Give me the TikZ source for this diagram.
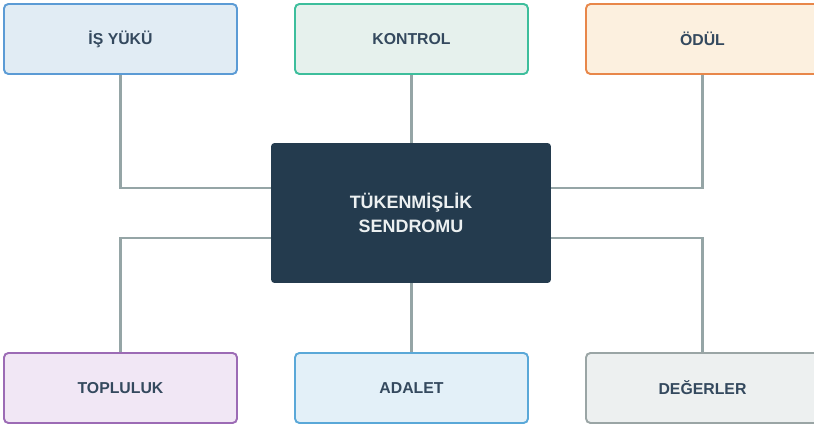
\documentclass[tikz,border=0pt]{standalone}
\usepackage{fontspec}
\setmainfont{Liberation Sans}
\usepackage{tikz}
\usetikzlibrary{backgrounds}

\definecolor{linegray}{HTML}{95A5A6}
\definecolor{textdark}{HTML}{34495E}
\definecolor{corefill}{HTML}{243B4E}
\definecolor{coretext}{HTML}{ECF0F1}
\definecolor{isline}{HTML}{5B9BD5}
\definecolor{isfill}{HTML}{E1ECF4}
\definecolor{konline}{HTML}{3DBE9C}
\definecolor{konfill}{HTML}{E6F1ED}
\definecolor{odline}{HTML}{E8874A}
\definecolor{odfill}{HTML}{FCF0DF}
\definecolor{topline}{HTML}{9C6BB5}
\definecolor{topfill}{HTML}{F1E7F5}
\definecolor{adline}{HTML}{5AA8D8}
\definecolor{adfill}{HTML}{E3F0F8}
\definecolor{degline}{HTML}{9AA5A5}
\definecolor{degfill}{HTML}{EDF0F0}

\begin{document}
\begin{tikzpicture}[x=0.02cm, y=-0.02cm,
    factor/.style={draw, line width=1.1pt, rounded corners=2.5pt,
        minimum width=4.66cm, minimum height=1.4cm,
        text=textdark, font=\fontsize{9}{11}\selectfont\bfseries},
    core/.style={fill=corefill, rounded corners=2pt,
        minimum width=5.6cm, minimum height=2.8cm,
        text=coretext, align=center,
        font=\fontsize{10.2}{13.8}\selectfont\bfseries},
    link/.style={draw=linegray, line width=1.3pt}]
    \useasboundingbox (0,0) rectangle (814,428);
          \node[core] (sendrom) at (411,213) {TÜKENMİŞLİK\\SENDROMU};

          % ust satir
          \node[factor, draw=isline, fill=isfill] (isyuku) at (120.5,39) {İŞ YÜKÜ};
          \node[factor, draw=konline, fill=konfill] (kontrol) at (411.5,39) {KONTROL};
          \node[factor, draw=odline, fill=odfill] (odul) at (702.5,39) {ÖDÜL};

          % alt satir
          \node[factor, draw=topline, fill=topfill] (topluluk) at (120.5,388) {TOPLULUK};
          \node[factor, draw=adline, fill=adfill] (adalet) at (411.5,388) {ADALET};
          \node[factor, draw=degline, fill=degfill] (degerler) at (702.5,388) {DEĞERLER};

          \begin{scope}[on background layer]
            \draw[link] (isyuku.south) |- (sendrom.170);
            \draw[link] (kontrol.south) -- (kontrol.south |- sendrom.north);
            \draw[link] (odul.south) |- (sendrom.10);
            \draw[link] (topluluk.north) |- (sendrom.190);
            \draw[link] (adalet.north) -- (adalet.north |- sendrom.south);
            \draw[link] (degerler.north) |- (sendrom.350);
          \end{scope}
\end{tikzpicture}
\end{document}
